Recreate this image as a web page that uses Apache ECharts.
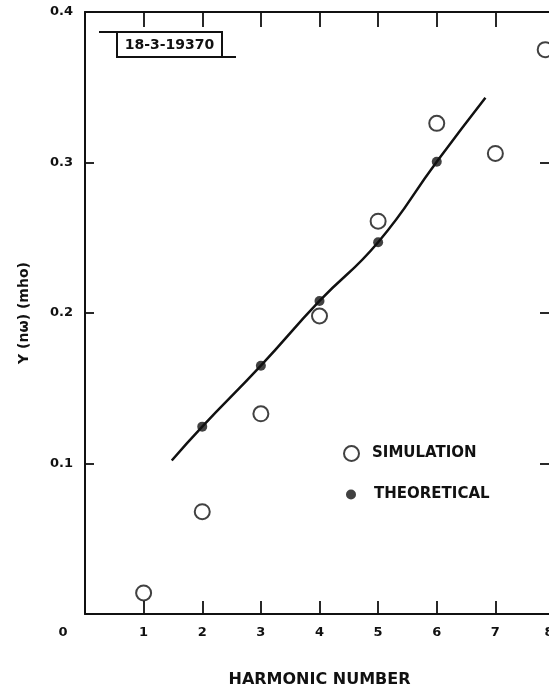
<!DOCTYPE html>
<html>
<head>
<meta charset="utf-8">
<script src="https://cdn.jsdelivr.net/npm/echarts@6/dist/echarts.min.js"></script>
<style>
html,body{margin:0;padding:0;background:#fff;overflow:hidden;}
#c{width:549px;height:688px;}
</style>
</head>
<body>
<div id="c"></div>
<script>
// ---- data ----
const xTicks = [0, 1, 2, 3, 4, 5, 6, 7, 8];
const yTicks = [0, 0.1, 0.2, 0.3, 0.4];
const simX = [1, 2, 3, 4, 5, 6, 7, 7.85];
const simY = [0.014, 0.068, 0.133, 0.198, 0.261, 0.326, 0.306, 0.375];
const theoX = [2, 3, 4, 5, 6];
const theoY = [0.1245, 0.165, 0.208, 0.247, 0.3005];
const curveX = [1.48, 2, 3, 4, 5, 6, 6.83];
const curveY = [0.102, 0.1245, 0.165, 0.208, 0.247, 0.3005, 0.343];
const xName = 'HARMONIC NUMBER';
const yName = 'Y (nω) (mho)';
const figId = '18-3-19370';

const FONT = 'DejaVu Sans';
const INK = '#111';
const zip = (a, b) => a.map((v, i) => [v, b[i]]);

const chart = echarts.init(document.getElementById('c'), null, {renderer: 'canvas'});

const axisLine = {show: true, onZero: false, lineStyle: {color: INK, width: 2}};
const baseX = {
  type: 'value', min: xTicks[0], max: xTicks[xTicks.length - 1], interval: 1,
  splitLine: {show: false}, axisLine: axisLine
};
const baseY = {
  type: 'value', min: yTicks[0], max: yTicks[yTicks.length - 1], interval: 0.1,
  splitLine: {show: false}, axisLine: axisLine
};

chart.setOption({
  animation: false,
  backgroundColor: '#fff',
  grid: {left: 85, top: 12, width: 469, height: 602, containLabel: false, outerBoundsMode: 'none', show: false},
  xAxis: [
    Object.assign({}, baseX, {
      position: 'bottom',
      name: xName, nameLocation: 'middle', nameGap: 58,
      nameTextStyle: {fontFamily: FONT, fontWeight: 'bold', fontSize: 16, color: INK},
      axisTick: {show: true, inside: true, length: 13, lineStyle: {color: INK, width: 1.8}},
      axisLabel: {
        show: true, margin: 12, color: INK, fontFamily: FONT, fontWeight: 'bold', fontSize: 13,
        showMinLabel: true, showMaxLabel: true, hideOverlap: false,
        formatter: v => v === 0 ? '{o|0}' : (v === 8 ? '{e|8}' : String(v)),
        rich: {
          o: {padding: [0, 44, 0, 0], fontFamily: FONT, fontWeight: 'bold', fontSize: 13, color: INK},
          e: {padding: [0, 10, 0, 0], fontFamily: FONT, fontWeight: 'bold', fontSize: 13, color: INK}
        }
      }
    }),
    Object.assign({}, baseX, {
      position: 'top',
      axisTick: {show: true, inside: true, length: 15, lineStyle: {color: INK, width: 1.8}},
      axisLabel: {show: false}
    })
  ],
  yAxis: [
    Object.assign({}, baseY, {
      position: 'left',
      name: yName, nameLocation: 'middle', nameGap: 54, nameRotate: 90,
      nameTextStyle: {fontFamily: FONT, fontWeight: 'bold', fontSize: 14, color: INK},
      axisTick: {show: true, inside: true, length: 9, lineStyle: {color: INK, width: 1.8}},
      axisLabel: {
        show: true, margin: 12, color: INK, fontFamily: FONT, fontWeight: 'bold', fontSize: 13,
        formatter: v => v === 0 ? '' : v.toFixed(1)
      }
    }),
    Object.assign({}, baseY, {
      position: 'right',
      axisLine: {show: false, onZero: false},
      axisTick: {show: true, inside: true, length: 14, lineStyle: {color: INK, width: 1.8}},
      axisLabel: {show: false}
    })
  ],
  legend: [
    {
      data: [{name: 'SIMULATION', icon: 'emptyCircle'}],
      left: 338, top: 440, itemWidth: 15, itemHeight: 15,
      textStyle: {fontFamily: FONT, fontWeight: 'bold', fontSize: 15, color: INK, padding: [0, 0, 0, 8]}
    },
    {
      data: [{name: 'THEORETICAL', icon: 'circle'}],
      left: 341, top: 482, itemWidth: 10, itemHeight: 10,
      textStyle: {fontFamily: FONT, fontWeight: 'bold', fontSize: 15, color: INK, padding: [0, 0, 0, 13]}
    }
  ],
  graphic: [
    {type: 'rect', shape: {x: 117, y: 32, width: 105, height: 25},
     style: {fill: '#fff', stroke: INK, lineWidth: 2}, z: 100},
    {type: 'line', shape: {x1: 99, y1: 32, x2: 117, y2: 32}, style: {stroke: INK, lineWidth: 2}, z: 100},
    {type: 'line', shape: {x1: 222, y1: 57, x2: 236, y2: 57}, style: {stroke: INK, lineWidth: 2}, z: 100},
    {type: 'text', x: 169.5, y: 45, z: 101,
     style: {text: figId, fill: INK, font: 'bold 14px "' + FONT + '"', align: 'center', verticalAlign: 'middle'}}
  ],
  series: [
    {
      name: 'curve', type: 'line', data: zip(curveX, curveY), smooth: 0.5,
      symbol: 'none', lineStyle: {color: INK, width: 2.5}, z: 2, silent: true
    },
    {
      name: 'SIMULATION', type: 'scatter', data: zip(simX, simY),
      symbol: 'emptyCircle', symbolSize: 15,
      itemStyle: {color: INK, borderColor: INK, borderWidth: 2.2}, z: 4
    },
    {
      name: 'THEORETICAL', type: 'scatter', data: zip(theoX, theoY),
      symbol: 'circle', symbolSize: 10,
      itemStyle: {color: INK}, z: 3
    }
  ]
});
</script>
</body>
</html>
